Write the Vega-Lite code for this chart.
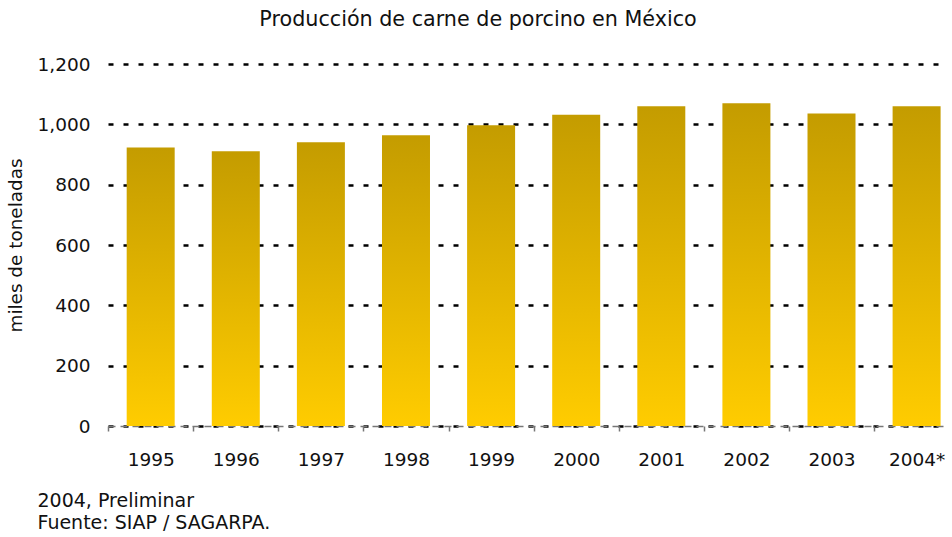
{
  "$schema": "https://vega.github.io/schema/vega-lite/v6.json",
  "width": 838,
  "height": 362,
  "autosize": {"type": "none"},
  "padding": {"left": 108, "top": 64, "right": 6, "bottom": 111},
  "background": "white",
  "config": {
    "view": {"stroke": null},
    "font": "DejaVu Sans"
  },
  "title": {
    "text": "Producción de carne de porcino en México",
    "font": "DejaVu Sans",
    "fontSize": 20.7,
    "fontWeight": "normal",
    "color": "#111111",
    "anchor": "middle",
    "dx": -49,
    "offset": 24
  },
  "data": {
    "values": [
      {"anio": "1995", "valor": 923},
      {"anio": "1996", "valor": 911},
      {"anio": "1997", "valor": 941},
      {"anio": "1998", "valor": 964},
      {"anio": "1999", "valor": 997},
      {"anio": "2000", "valor": 1032},
      {"anio": "2001", "valor": 1060},
      {"anio": "2002", "valor": 1070},
      {"anio": "2003", "valor": 1036},
      {"anio": "2004*", "valor": 1060}
    ]
  },
  "mark": {
    "type": "bar",
    "color": {
      "gradient": "linear",
      "x1": 0, "y1": 0, "x2": 0, "y2": 1,
      "stops": [
        {"offset": 0, "color": "#C49C00"},
        {"offset": 1, "color": "#FFCC00"}
      ]
    }
  },
  "encoding": {
    "x": {
      "field": "anio",
      "type": "nominal",
      "sort": null,
      "scale": {"paddingInner": 0.436, "paddingOuter": 0.1415, "align": 0.776},
      "axis": {
        "title": ["2004, Preliminar", "Fuente: SIAP / SAGARPA."],
        "titleFont": "DejaVu Sans",
        "titleFontSize": 19,
        "titleFontWeight": "normal",
        "titleColor": "#111111",
        "titleAlign": "left",
        "titleAnchor": "start",
        "titleBaseline": "alphabetic",
        "titleAngle": 0,
        "titleX": -71,
        "titleY": 80,
        "titleLineHeight": 22,
        "labelAngle": 0,
        "labelFont": "DejaVu Sans",
        "labelFontSize": 18.5,
        "labelColor": "#111111",
        "labelPadding": 19,
        "tickOffset": -42.5,
        "labelOffset": 42.5,
        "ticks": true,
        "tickSize": 5,
        "tickColor": "#777777",
        "tickWidth": 1.5,
        "domainColor": "#777777",
        "domainWidth": 1.5,
        "domainDash": [7, 5]
      }
    },
    "y": {
      "field": "valor",
      "type": "quantitative",
      "scale": {"domain": [0, 1200], "nice": false},
      "axis": {
        "title": "miles de toneladas",
        "titleFont": "DejaVu Sans",
        "titleFontSize": 18.4,
        "titleFontWeight": "normal",
        "titleColor": "#111111",
        "titlePadding": 12,
        "values": [0, 200, 400, 600, 800, 1000, 1200],
        "format": ",d",
        "labelFont": "DejaVu Sans",
        "labelFontSize": 18.5,
        "labelColor": "#111111",
        "labelPadding": 18,
        "ticks": false,
        "domain": false,
        "grid": true,
        "gridColor": "#000000",
        "gridWidth": 2.5,
        "gridDash": [5, 10]
      }
    }
  }
}
